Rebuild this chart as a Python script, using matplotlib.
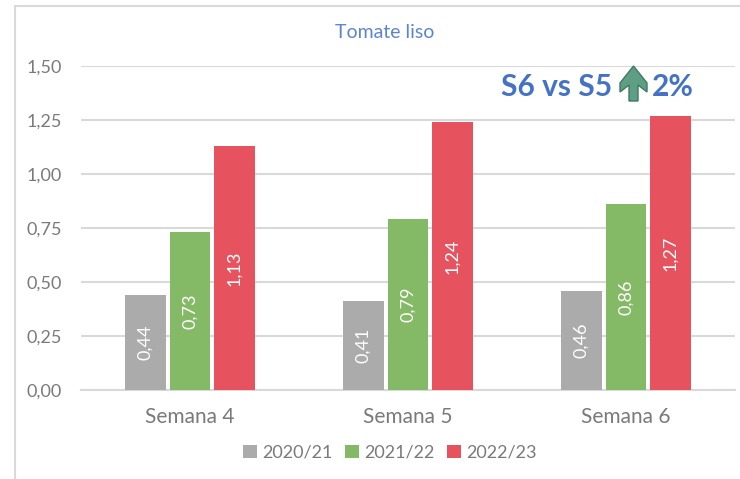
import numpy as np
import matplotlib
matplotlib.use("Agg")
import matplotlib.pyplot as plt
from matplotlib.patches import Polygon
from matplotlib.lines import Line2D

weeks = ["Semana 4", "Semana 5", "Semana 6"]
seasons = ["2020/21", "2021/22", "2022/23"]
s2021 = [0.44, 0.41, 0.46]
s2122 = [0.73, 0.79, 0.86]
s2223 = [1.13, 1.24, 1.27]
labels2021 = ["0,44", "0,41", "0,46"]
labels2122 = ["0,73", "0,79", "0,86"]
labels2223 = ["1,13", "1,24", "1,27"]
yticks = [0, 0.25, 0.5, 0.75, 1.0, 1.25, 1.5]
yticklabels = ["0,00", "0,25", "0,50", "0,75", "1,00", "1,25", "1,50"]

colors = ["#ABABAB", "#84BA65", "#E6525E"]
W, H = 740, 479
plt.rcParams["font.family"] = ["Lato", "DejaVu Sans"]

fig = plt.figure(figsize=(W / 100, H / 100), dpi=100)
ax = fig.add_axes([81 / W, 1 - 390 / H, 654 / W, 324 / H])
x = np.arange(3)
step = 0.204
for i, (vals, labs) in enumerate(zip([s2021, s2122, s2223], [labels2021, labels2122, labels2223])):
    bars = ax.bar(x + (i - 1) * step, vals, 0.188, color=colors[i], zorder=3, label=seasons[i])
    for b, lab in zip(bars, labs):
        ax.text(b.get_x() + b.get_width() / 2, b.get_height() / 2, lab, rotation=90,
                ha="center", va="center", color="white", fontsize=13, zorder=4)

ax.set_xlim(-0.5, 2.5)
ax.set_ylim(0, 1.5)
ax.set_yticks(yticks, yticklabels)
ax.set_xticks(x, weeks)
ax.grid(axis="y", color="#D9D9D9", lw=1.5, zorder=0)
for s in ["top", "right", "left"]:
    ax.spines[s].set_visible(False)
ax.spines["bottom"].set_color("#D9D9D9")
ax.spines["bottom"].set_linewidth(1.5)
ax.tick_params(axis="y", length=0, pad=14, labelsize=13, labelcolor="#7A7A7A")
ax.tick_params(axis="x", length=0, pad=12, labelsize=15, labelcolor="#7A7A7A")

# chart frame, only top and left are visible in the crop
fig.add_artist(Line2D([15 / W, 15 / W], [0, 1 - 6 / H], color="#D9D9D9", lw=1.5))
fig.add_artist(Line2D([15 / W, 1], [1 - 6 / H, 1 - 6 / H], color="#D9D9D9", lw=1.5))

fig.text(385 / W, 1 - 32 / H, "Tomate liso", color="#5B85D0", fontsize=14, ha="center", va="center")

# callout on top right
fig.text(501 / W, 1 - 87 / H, "S6 vs S5", color="#4472C4", fontsize=21.5, fontweight="bold", ha="left", va="center")
fig.text(652 / W, 1 - 87 / H, "2%", color="#4472C4", fontsize=21.5, fontweight="bold", ha="left", va="center")
arrow = [(620, 83), (620, 92), (629, 85), (629, 101), (638, 101), (638, 85), (647, 92), (647, 83), (633.5, 66)]
fig.add_artist(Polygon([(px / W, 1 - py / H) for px, py in arrow], closed=True, transform=fig.transFigure,
                       facecolor="#5E9E85", edgecolor="#3F7A63", lw=1))

h, l = ax.get_legend_handles_labels()
fig.legend(h, l, loc="center", bbox_to_anchor=(390 / W, 1 - 453 / H), ncol=3, frameon=False, fontsize=13,
           labelcolor="#7A7A7A", handlelength=0.75, handleheight=0.75, handletextpad=0.3, columnspacing=0.7)
fig.savefig("out.png", dpi=100, facecolor="white")
